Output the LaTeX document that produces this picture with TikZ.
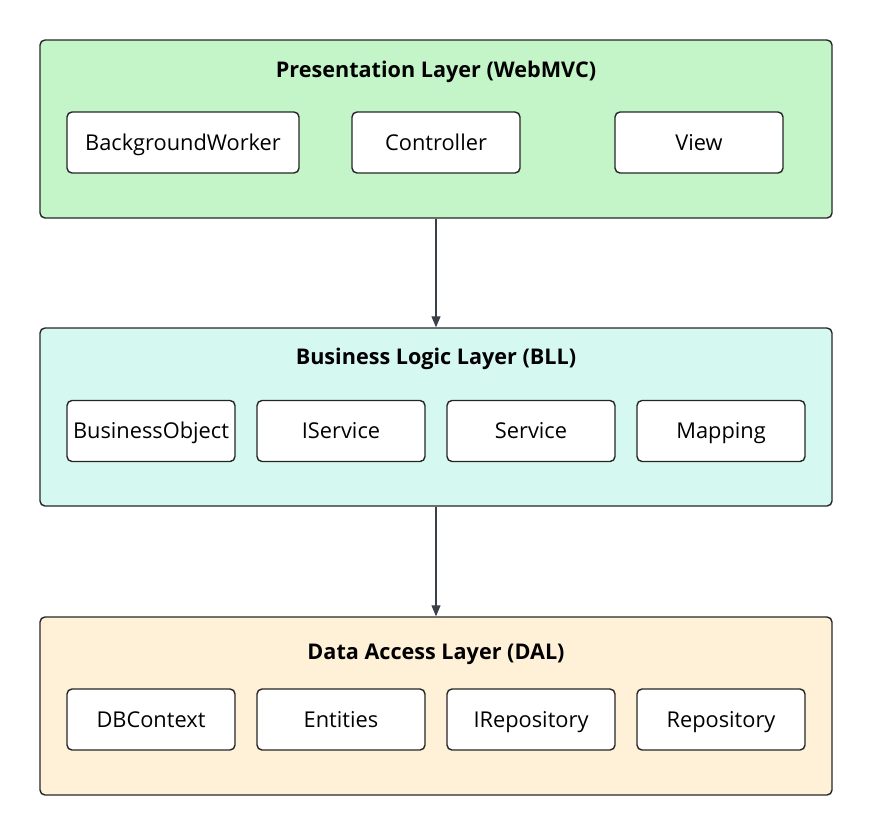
\documentclass[tikz,border=0pt]{standalone}
\usepackage{fontspec}
\setmainfont{Open Sans}
\usetikzlibrary{arrows.meta}
\definecolor{presfill}{HTML}{C3F5C8}
\definecolor{bllfill}{HTML}{D5F8F1}
\definecolor{dalfill}{HTML}{FFF1D8}
\definecolor{arrowclr}{HTML}{3B3F48}
\begin{document}
\begin{tikzpicture}[x=1pt,y=-1pt,
  layer/.style={draw=black!85,line width=1.4pt,rounded corners=5pt,fill=#1,
    minimum width=792pt,minimum height=178pt,inner sep=0pt},
  comp/.style={draw=black!85,line width=1.4pt,rounded corners=5pt,fill=white,
    minimum height=61pt,inner sep=0pt,text height=15pt,text depth=0pt,
    font=\fontsize{21.8}{24}\selectfont},
  ltitle/.style={font=\fontsize{21.6}{24}\selectfont\bfseries,
    text height=15pt,text depth=0pt},
  flow/.style={arrowclr,line width=1.1pt,-{Triangle[length=11pt,width=9pt]}}]

\useasboundingbox (0,0) rectangle (872,836);

% layers
\node[layer=presfill] (pres) at (436,129) {};
\node[layer=bllfill] (bll) at (436,417) {};
\node[layer=dalfill] (dal) at (436,706) {};

\node[ltitle] (pres-t) at (436,70) {Presentation Layer (WebMVC)};
\node[ltitle] (bll-t) at (436,357) {Business Logic Layer (BLL)};
\node[ltitle] (dal-t) at (436,652) {Data Access Layer (DAL)};

% presentation components
\foreach \nm/\x/\w in {BackgroundWorker/183/232,Controller/436/168,View/699/168}{
  \node[comp,minimum width=\w pt] (\nm) at (\x,142.5) {\nm};
}
% business logic components
\foreach \nm [count=\i,evaluate={\x=151+190*(\i-1);}]
             in {BusinessObject,IService,Service,Mapping}{
  \node[comp,minimum width=168pt] (\nm) at (\x,431) {\nm};
}
% data access components
\foreach \nm [count=\i,evaluate={\x=151+190*(\i-1);}]
             in {DBContext,Entities,IRepository,Repository}{
  \node[comp,minimum width=168pt] (\nm) at (\x,719.5) {\nm};
}

\draw[flow] (pres) -- (bll);
\draw[flow] (bll) -- (dal);
\end{tikzpicture}
\end{document}
